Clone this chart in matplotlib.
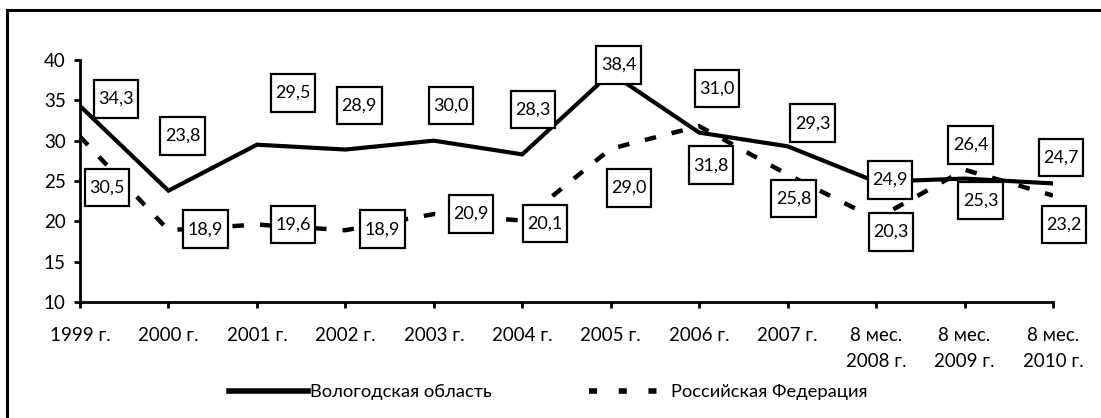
import matplotlib
matplotlib.use("Agg")
from matplotlib import pyplot as plt
from matplotlib.lines import Line2D
from matplotlib.path import Path

plt.rcParams['font.family'] = ['Lato', 'DejaVu Sans']
plt.rcParams['font.size'] = 13.5

periods = ['1999 г.', '2000 г.', '2001 г.', '2002 г.', '2003 г.', '2004 г.',
           '2005 г.', '2006 г.', '2007 г.', '8 мес.\n2008 г.',
           '8 мес.\n2009 г.', '8 мес.\n2010 г.']
vologda = [34.3, 23.8, 29.5, 28.9, 30.0, 28.3, 38.4, 31.0, 29.3, 24.9, 25.3, 24.7]
russia = [30.5, 18.9, 19.6, 18.9, 20.9, 20.1, 29.0, 31.8, 25.8, 20.3, 26.4, 23.2]

# label offsets from the point, in pixels (x right, y down)
vologda_off = [(36, -7), (14, -55), (36, -52), (14, -44), (17, -35), (11, -45),
               (8, -8), (18, -44), (25, -23), (14, -2), (16, 22), (8, -26)]
russia_off = [(27, 51), (37, -1), (36, 0), (37, -1), (37, 0), (23, 3),
              (18, 39), (12, 39), (6, 24), (15, 13), (6, -25), (11, 29)]


def label_box(x0, y0, width, height, mutation_size):
    # square box, taller than wide like the excel labels
    px, py = 0.25 * mutation_size, 0.6 * mutation_size
    x0, y0 = x0 - px, y0 - py
    x1, y1 = x0 + width + 2 * px, y0 + height + 2 * py
    return Path([(x0, y0), (x1, y0), (x1, y1), (x0, y1), (x0, y0)], closed=True)


W, H = 1101, 418
fig = plt.figure(figsize=(W / 100, H / 100), dpi=100)
ax = fig.add_axes([80 / W, 1 - 302 / H, (1053 - 80) / W, (302 - 60) / H])

x = list(range(len(periods)))
ax.plot(x, vologda, color='black', lw=3, solid_joinstyle='miter', zorder=2)
ax.plot(x, russia, color='black', lw=3.2, dashes=(2.6, 3.6), zorder=2)

for vals, offs in ((vologda, vologda_off), (russia, russia_off)):
    for i, (v, (dx, dy)) in enumerate(zip(vals, offs)):
        ax.annotate(f'{v:.1f}'.replace('.', ','), (i, v),
                    xytext=(dx * 0.72, -dy * 0.72), textcoords='offset points',
                    ha='center', va='center', fontsize=13, zorder=4,
                    bbox=dict(boxstyle=label_box, fc='white', ec='black', lw=1.6),
                    annotation_clip=False)

ax.set_xlim(0, 11)
ax.set_ylim(10, 40)
ax.set_yticks(range(10, 41, 5))
ax.set_xticks(x)
ax.set_xticklabels(periods, linespacing=1.6)
for s in ('top', 'right'):
    ax.spines[s].set_visible(False)
for s in ('left', 'bottom'):
    ax.spines[s].set_linewidth(2)
ax.tick_params(axis='y', direction='out', length=4.3, width=2, pad=6)
ax.tick_params(axis='x', direction='out', length=4.3, width=2, pad=14)

h1 = Line2D([], [], color='black', lw=4)
h2 = Line2D([], [], color='black', lw=4, dashes=(1.45, 3.9))
fig.legend([h1, h2], ['Вологодская область', 'Российская Федерация'],
           loc='center', bbox_to_anchor=(548 / W, 1 - 392 / H), ncol=2,
           frameon=False, handlelength=4.3, handletextpad=0.15,
           columnspacing=5.3, fontsize=13.2)

# outer frame (only top and left edges visible in the crop)
fig.add_artist(Line2D([7 / W, 1], [1 - 10 / H] * 2, color='black', lw=2.2,
                      transform=fig.transFigure))
fig.add_artist(Line2D([7 / W] * 2, [0, 1 - 10 / H], color='black', lw=2.2,
                      transform=fig.transFigure))

fig.savefig('out.png', dpi=100)
